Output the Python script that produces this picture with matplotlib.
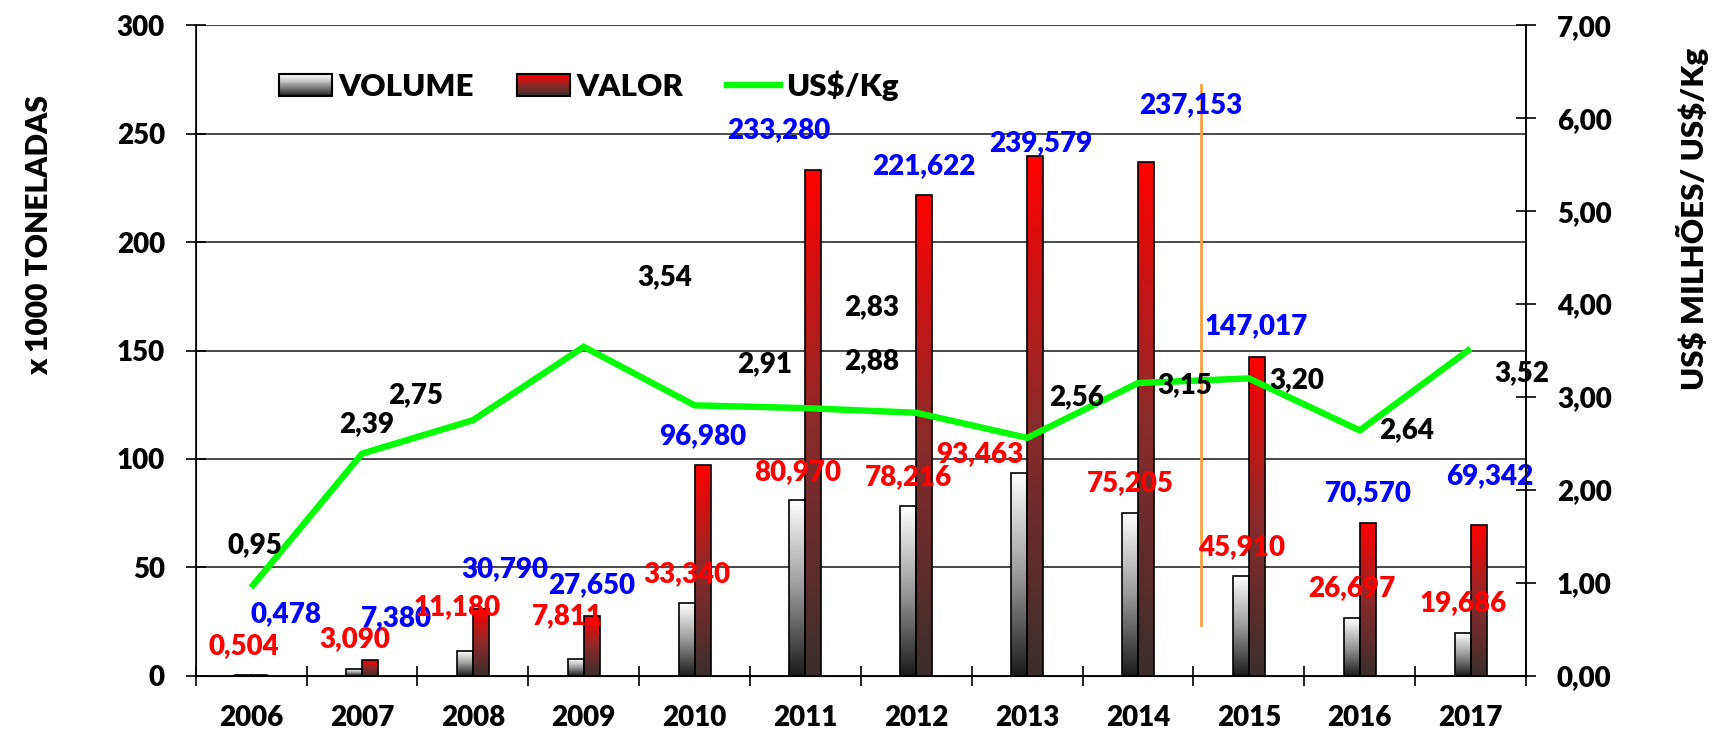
import numpy as np
import matplotlib
matplotlib.use("Agg")
import matplotlib.pyplot as plt
from matplotlib.colors import LinearSegmentedColormap
from matplotlib.patches import Rectangle, Patch
from matplotlib.lines import Line2D
from matplotlib.legend_handler import HandlerBase

plt.rcParams['font.family'] = ['Lato', 'DejaVu Sans']
plt.rcParams['font.weight'] = 'heavy'

years = ['2006', '2007', '2008', '2009', '2010', '2011',
         '2012', '2013', '2014', '2015', '2016', '2017']
volume = [0.504, 3.090, 11.180, 7.811, 33.340, 80.970,
          78.216, 93.463, 75.205, 45.910, 26.697, 19.686]
valor = [0.478, 7.380, 30.790, 27.650, 96.980, 233.280,
         221.622, 239.579, 237.153, 147.017, 70.570, 69.342]
preco = [0.95, 2.39, 2.75, 3.54, 2.91, 2.88,
         2.83, 2.56, 3.15, 3.20, 2.64, 3.52]

# label offsets (category units, value units) as moved by hand in the original
vol_dx = [-.07, -.07, -.14, -.15, -.07, -.07, -.07, -.43, -.07, -.065, -.07, -.07]
vol_dy = [13.3, 13.8, 20.6, 19.9, 13.6, 13.1, 13.3, 8.8, 13.5, 13.6, 13.6, 13.7]
val_dx = [.31, .31, .29, .07, .07, -.24, .07, .12, .48, .07, .08, .17]
val_dy = [28.0, 19.1, 18.4, 13.9, 13.7, 18.4, 13.5, 6.0, 26.0, 14.0, 13.8, 22.5]
pre_dx = [.03, .04, -.52, .73, .63, .60, -.40, .45, .42, .43, .42, .46]
pre_dy = [.45, .32, .265, .75, .445, .51, 1.134, .443, -.021, -.017, .004, -.265]

cm_vol = LinearSegmentedColormap.from_list('vol', ['#1a1a1a', '#9a9a9a', '#ffffff'])
cm_val = LinearSegmentedColormap.from_list('val', ['#3a2e2e', '#8c2a2a', '#ff0000'])


class GradHandler(HandlerBase):
    def __init__(self, cmap):
        super().__init__()
        self.cmap = cmap

    def create_artists(self, legend, orig_handle, xdescent, ydescent,
                       width, height, fontsize, trans):
        arts = []
        n = 24
        for i in range(n):
            arts.append(Rectangle((-xdescent, -ydescent + height * i / n), width, height / n,
                                  facecolor=self.cmap(i / (n - 1)), edgecolor='none',
                                  transform=trans))
        arts.append(Rectangle((-xdescent, -ydescent), width, height, facecolor='none',
                              edgecolor='black', lw=1.5, transform=trans))
        return arts


def fmt(v, d):
    return f"{v:.{d}f}".replace('.', ',')


fig = plt.figure(figsize=(17.13, 7.29), dpi=100)
ax = fig.add_axes([0.11425, 0.07311, 0.77659, 0.89218])
x = np.arange(len(years))
w = 0.144

b1 = ax.bar(x - w / 2, volume, w, facecolor='none', edgecolor='black', lw=1.2, zorder=4)
b2 = ax.bar(x + w / 2, valor, w, facecolor='none', edgecolor='black', lw=1.2, zorder=4)
grad = np.linspace(0, 1, 256).reshape(-1, 1)
for bars, cm in [(b1, cm_vol), (b2, cm_val)]:
    for r in bars:
        im = ax.imshow(grad, extent=[r.get_x(), r.get_x() + r.get_width(), 0, r.get_height()],
                       origin='lower', aspect='auto', cmap=cm, zorder=3)
        im.set_clip_path(r)

ax.axvline(8.57, ymin=23.4 / 300, ymax=272.4 / 300, color='#f9a040', lw=2, zorder=2)

for i in x:
    ax.text(i + vol_dx[i], volume[i] + vol_dy[i], fmt(volume[i], 3), color='#ff0000',
            fontsize=20, ha='center', va='center', zorder=6)
    ax.text(i + val_dx[i], valor[i] + val_dy[i], fmt(valor[i], 3), color='#0000ff',
            fontsize=20, ha='center', va='center', zorder=6)

ax.set_xlim(-0.5, 11.5)
ax.set_ylim(0, 300)
ax.set_yticks(range(0, 301, 50))
ax.grid(axis='y', color='#2b2b2b', lw=1.2, zorder=0)
ax.set_axisbelow(True)
ax.set_xticks(x)
ax.set_xticklabels(years)
ax.set_xticks(np.arange(-0.5, 12, 1), minor=True)
ax.tick_params(axis='x', which='major', length=0, pad=21, labelsize=20)
ax.tick_params(axis='x', which='minor', direction='inout', length=14.4, width=1.2)
ax.tick_params(axis='y', direction='inout', length=14.4, width=1.2, pad=15, labelsize=20)
ax.spines['top'].set_visible(False)
for s in ['left', 'bottom', 'right']:
    ax.spines[s].set_linewidth(1.2)

ax2 = ax.twinx()
ax2.plot(x, preco, color='#00ff00', lw=4.6, solid_joinstyle='miter', solid_capstyle='butt', zorder=5)
for i in x:
    ax2.text(i + pre_dx[i], preco[i] + pre_dy[i], fmt(preco[i], 2), color='black',
             fontsize=20, ha='center', va='center', zorder=6)
ax2.set_ylim(0, 7)
ax2.set_yticks(range(0, 8))
ax2.set_yticklabels([fmt(v, 2) for v in range(0, 8)])
ax2.tick_params(axis='y', direction='inout', length=14.4, width=1.2, pad=15, labelsize=20)
ax2.spines['top'].set_visible(False)
ax2.spines['right'].set_linewidth(1.2)

handles = [Patch(label='VOLUME'), Patch(label='VALOR'),
           Line2D([], [], color='#00ff00', lw=4.6, label='US\\$/Kg')]
hmap = {handles[0]: GradHandler(cm_vol), handles[1]: GradHandler(cm_val)}
ax2.legend(handles=handles, handler_map=hmap, loc='center left',
           bbox_to_anchor=(0.0626, 0.9067), ncol=3, frameon=False,
           prop={'size': 22.5, 'weight': 'heavy'}, borderpad=0, borderaxespad=0,
           handlelength=1.7, handletextpad=0.19, columnspacing=1.4, handleheight=0.7)

fig.text(0.023, 0.677, 'x 1000 TONELADAS', rotation=90, ha='center', va='center', fontsize=21.5)
fig.text(0.988, 0.70, 'US\\$ MILHÕES/ US\\$/Kg', rotation=90, ha='center', va='center', fontsize=22.5)

fig.savefig('out.png', dpi=100)
